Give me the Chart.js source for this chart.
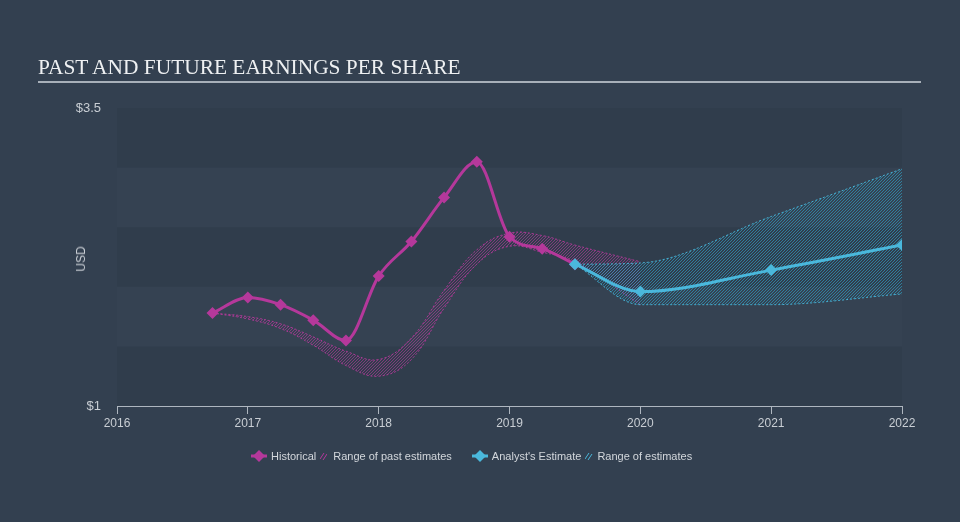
<!DOCTYPE html>
<html>
<head>
<meta charset="utf-8">
<script src="https://cdn.jsdelivr.net/npm/chart.js@4/dist/chart.umd.min.js"></script>
<style>
  html, body { margin: 0; padding: 0; background: #334050; }
  #wrap { position: relative; width: 960px; height: 522px; overflow: hidden; }
  #chart { position: absolute; left: 0; top: 0; }
  #title {
    position: absolute; left: 38px; top: 55px; width: 883px;
    font: 21.4px "Liberation Serif", serif; line-height: 24px; color: #eef0f2;
    padding-bottom: 2px; border-bottom: 2px solid #a8b0b9;
  }
  #usd {
    position: absolute; left: 81px; top: 259px;
    transform: translate(-50%, -50%) rotate(-90deg);
    font: 12px "Liberation Sans", Arial, sans-serif; color: #c9ced4;
  }
  #legend {
    position: absolute; left: 251px; top: 448px; height: 16px;
    display: flex; align-items: center;
    font: 11px "Liberation Sans", Arial, sans-serif; color: #d3d7dc;
  }
  #legend svg { display: block; }
  .gap4 { width: 4px; } .gap6 { width: 6px; } .gap20 { width: 20px; }
</style>
</head>
<body>
<div id="wrap">
  <canvas id="chart" width="960" height="522"></canvas>
  <div id="title">PAST AND FUTURE EARNINGS PER SHARE</div>
  <div id="usd">USD</div>
  <div id="legend">
    <svg width="16" height="12"><line x1="0" y1="6" x2="16" y2="6" stroke="#b5389b" stroke-width="3"/><polygon points="8,0 14,6 8,12 2,6" fill="#b5389b"/></svg>
    <span class="gap4"></span><span>Historical</span><span class="gap4"></span>
    <svg width="7" height="8"><line x1="0" y1="7" x2="4" y2="1" stroke="#b5389b" stroke-width="1"/><line x1="3" y1="8" x2="7" y2="2" stroke="#b5389b" stroke-width="1"/></svg>
    <span class="gap6"></span><span>Range of past estimates</span><span class="gap20"></span>
    <svg width="16" height="12"><line x1="0" y1="6" x2="16" y2="6" stroke="#4ab8dc" stroke-width="3"/><polygon points="8,0 14,6 8,12 2,6" fill="#4ab8dc"/></svg>
    <span class="gap4"></span><span>Analyst's Estimate</span><span class="gap4"></span>
    <svg width="8" height="8"><line x1="0" y1="7" x2="4" y2="1" stroke="#4ab8dc" stroke-width="1"/><line x1="3" y1="8" x2="7" y2="2" stroke="#4ab8dc" stroke-width="1"/></svg>
    <span class="gap4"></span><span>Range of estimates</span>
  </div>
</div>
<script>
"use strict";

// historical EPS (decimal years)
const histYears = [2016.73, 2017, 2017.25, 2017.5, 2017.75, 2018, 2018.25, 2018.5, 2018.75, 2019, 2019.25, 2019.5];
const histEps   = [1.78, 1.91, 1.85, 1.72, 1.55, 2.09, 2.38, 2.75, 3.05, 2.42, 2.32, 2.19];

// range of past estimates
const pastYears = [2016.73, 2017, 2017.25, 2017.5, 2017.75, 2018, 2018.25, 2018.5, 2018.75, 2019, 2019.25, 2019.5, 2020];
const pastHigh  = [1.78, 1.75, 1.69, 1.58, 1.46, 1.39, 1.57, 1.97, 2.31, 2.45, 2.43, 2.35, 2.21];
const pastLow   = [1.78, 1.73, 1.65, 1.51, 1.34, 1.25, 1.39, 1.82, 2.19, 2.34, 2.29, 2.21, 1.85];

// analyst estimates
const estYears = [2019.5, 2020, 2021, 2022];
const estEps   = [2.19, 1.96, 2.14, 2.35];
const estHigh  = [2.19, 2.20, 2.59, 2.99];
const estLow   = [2.19, 1.85, 1.85, 1.94];

const yearTicks = [2016, 2017, 2018, 2019, 2020, 2021, 2022];
const usdTicks  = [1, 3.5];
const bandEdges = [1, 1.5, 2, 2.5, 3, 3.5];

const MAGENTA = '#b5389b';
const CYAN = '#4ab8dc';

function points(xs, ys) {
  return xs.map((x, i) => ({ x: x, y: ys[i] }));
}

// crisp 1px diagonal stripes, no antialiasing
function hatch(color) {
  const n = 3;
  const c = document.createElement('canvas');
  c.width = n; c.height = n;
  const g = c.getContext('2d');
  g.fillStyle = color;
  for (let i = 0; i < n; i++) g.fillRect(i, n - 1 - i, 1, 1);
  return g.createPattern(c, 'repeat');
}

const bands = {
  id: 'bands',
  beforeDatasetsDraw(chart) {
    const { ctx, chartArea, scales } = chart;
    ctx.save();
    for (let i = 0; i < bandEdges.length - 1; i++) {
      const top = scales.y.getPixelForValue(bandEdges[i + 1]);
      const bottom = scales.y.getPixelForValue(bandEdges[i]);
      ctx.fillStyle = i % 2 === 0 ? 'rgba(0,0,0,0.045)' : 'rgba(255,255,255,0.012)';
      ctx.fillRect(chartArea.left, top, chartArea.right - chartArea.left, bottom - top);
    }
    ctx.restore();
  }
};

function rangeSet(xs, ys, color, hatchColor, fill, order, smooth) {
  const ds = {
    data: points(xs, ys),
    borderColor: color,
    borderWidth: 1,
    borderDash: [2, 2],
    pointRadius: 0,
    fill: fill,
    backgroundColor: fill ? hatch(hatchColor) : 'transparent',
    order: order,
  };
  if (smooth === 'monotone') ds.cubicInterpolationMode = 'monotone';
  else ds.tension = 0.4;
  return ds;
}

function lineSet(xs, ys, color, order) {
  return {
    data: points(xs, ys),
    borderColor: color,
    backgroundColor: color,
    borderWidth: 3,
    pointStyle: 'rectRot',
    pointRadius: 6,
    pointBorderWidth: 0,
    pointBackgroundColor: color,
    cubicInterpolationMode: 'monotone',
    fill: false,
    order: order,
  };
}

new Chart(document.getElementById('chart'), {
  type: 'line',
  data: {
    datasets: [
      lineSet(estYears, estEps, CYAN, 0),
      lineSet(histYears, histEps, MAGENTA, 1),
      rangeSet(estYears, estHigh, 'rgba(74,184,220,0.9)', 'rgba(48,160,196,0.65)', '+1', 2, 'monotone'),
      rangeSet(estYears, estLow, 'rgba(74,184,220,0.9)', null, false, 2, 'monotone'),
      rangeSet(pastYears, pastHigh, 'rgba(181,56,155,0.9)', 'rgba(181,56,155,0.6)', '+1', 3),
      rangeSet(pastYears, pastLow, 'rgba(181,56,155,0.9)', null, false, 3),
    ]
  },
  options: {
    responsive: false,
    animation: false,
    devicePixelRatio: 1,
    layout: { padding: { left: 0, top: 108, right: 58, bottom: 0 } },
    plugins: { legend: { display: false }, tooltip: { enabled: false } },
    scales: {
      x: {
        type: 'linear',
        min: 2016, max: 2022,
        afterBuildTicks: axis => { axis.ticks = yearTicks.map(v => ({ value: v })); },
        afterFit: axis => { axis.height = 116; },
        ticks: {
          callback: v => String(v),
          color: '#c9ced4',
          font: { family: '"Liberation Sans", Arial, sans-serif', size: 12 },
          padding: 2,
          maxRotation: 0,
        },
        grid: { drawOnChartArea: false, drawTicks: true, tickLength: 8, color: '#aeb6bf' },
        border: { display: true, color: '#aeb6bf', width: 1 },
      },
      y: {
        min: 1, max: 3.5,
        afterBuildTicks: axis => { axis.ticks = usdTicks.map(v => ({ value: v })); },
        afterFit: axis => { axis.width = 117; },
        ticks: {
          callback: v => '$' + v,
          color: '#c9ced4',
          font: { family: '"Liberation Sans", Arial, sans-serif', size: 13 },
          padding: 8,
        },
        grid: { display: false },
        border: { display: false },
      }
    }
  },
  plugins: [bands],
});
</script>
</body>
</html>
